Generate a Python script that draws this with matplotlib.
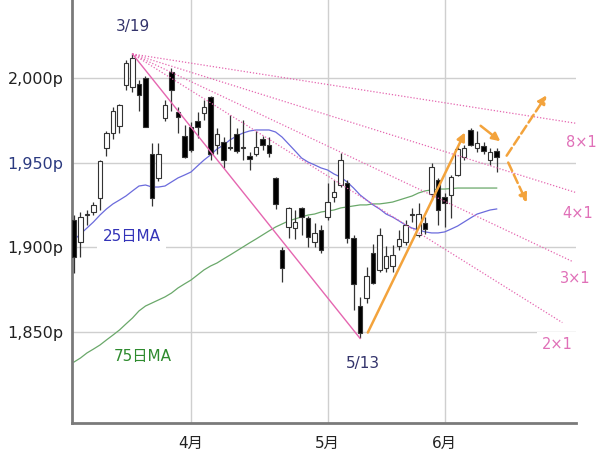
import matplotlib.pyplot as plt

plt.rcParams['font.family'] = ['DejaVu Sans', 'Noto Sans CJK JP']

# daily candles, trading-day index 0 = 3/8 ... 65 = 6/11
opens = [1916, 1903, 1919, 1921, 1929, 1959, 1968, 1972, 1996, 1995,
         1997, 2000, 1955, 1941, 1976.5, 2004, 1980, 1966, 1971, 1975,
         1979.5, 1989, 1960.5, 1962.5, 1959.5, 1967, 1959, 1954, 1955.5, 1964,
         1960.5, 1941, 1898.5, 1912, 1911.5, 1923, 1917.5, 1903, 1910, 1918,
         1930, 1937, 1938, 1905.5, 1865, 1870, 1896.5, 1886.5, 1888, 1889,
         1901, 1903, 1919, 1907, 1914.5, 1931.5, 1940, 1930, 1931, 1943,
         1953.5, 1969.5, 1959, 1960, 1952, 1957]
highs = [1919, 1921, 1922, 1927, 1952, 1969, 1983, 1985, 2011, 2014.5,
         1999, 2001.5, 1962, 1962, 1987, 2006, 1983, 1972.5, 1974, 1980,
         1987, 1989.5, 1970.5, 1965.5, 1978.5, 1970.5, 1975.5, 1956.5, 1969, 1966,
         1965.5, 1941.5, 1900, 1924, 1922, 1924, 1918.5, 1914.5, 1913, 1938,
         1940, 1956, 1940, 1907, 1870.5, 1888.5, 1902, 1911.5, 1901, 1901.5,
         1910, 1916, 1923, 1926, 1918, 1950, 1941, 1932, 1943, 1959.5,
         1960.5, 1970.5, 1969, 1962.5, 1959, 1959]
lows = [1885, 1894, 1913, 1919, 1922, 1954, 1964, 1968, 1993, 1992,
        1981, 1971, 1924.5, 1939, 1975, 1981, 1968, 1953, 1956.5, 1965,
        1975.5, 1952, 1955, 1947, 1957.5, 1956, 1952, 1946, 1954, 1957.5,
        1953.5, 1922.5, 1879.5, 1905.5, 1905, 1907.5, 1900, 1900, 1896.5, 1916,
        1927, 1936, 1902.5, 1863, 1846, 1867, 1878, 1885.5, 1885.5, 1885.5,
        1898.5, 1901.5, 1915, 1906, 1908, 1928, 1913, 1912, 1917.5, 1942,
        1952, 1960, 1956.5, 1955.5, 1949, 1944.5]
closes = [1894, 1918, 1920, 1925, 1951, 1968, 1981, 1984, 2009, 2012,
          1990, 1971.5, 1929, 1955, 1984, 1993, 1977, 1953.5, 1957.5, 1971,
          1983, 1955, 1967, 1952, 1959, 1957, 1959.5, 1952.5, 1959.5, 1960.5,
          1956, 1925.5, 1888, 1923, 1915, 1918, 1906, 1908.5, 1898.5, 1927,
          1933, 1952, 1905.5, 1878, 1849, 1883, 1879, 1907, 1895, 1895.5,
          1905, 1913, 1920, 1920, 1911, 1947.5, 1922, 1926, 1941.5, 1958,
          1959, 1960.5, 1962, 1957, 1956.5, 1953.5]

ma25 = [1904.3, 1907.9, 1911.4, 1915, 1919.1, 1922.7, 1925.7, 1928, 1930.4, 1933.4,
        1936.3, 1936.9, 1935.7, 1935.7, 1936.3, 1938.7, 1941.1, 1942.8, 1944.6, 1948.2,
        1951.7, 1954.7, 1958.2, 1960.6, 1963.6, 1965.9, 1967.7, 1968.9, 1969.5, 1969.5,
        1969.5, 1968.3, 1965.3, 1961.2, 1957.1, 1952.9, 1950.5, 1948.8, 1947, 1945.8,
        1943.4, 1941.6, 1938.7, 1935.1, 1931, 1928, 1925.1, 1922.7, 1919.7, 1917.9,
        1915.6, 1913.2, 1911.4, 1910.3, 1909.1, 1908.5, 1908.5, 1909.1, 1910.8, 1912.6,
        1915, 1917.4, 1919.7, 1920.9, 1922.1, 1922.7]
ma75 = [1832, 1834.4, 1837.4, 1839.7, 1842.1, 1845.1, 1848, 1851, 1854.6, 1858.1,
        1862.3, 1865.2, 1867, 1868.8, 1870.6, 1872.9, 1875.9, 1878.3, 1880.6, 1883.6,
        1886.6, 1888.9, 1890.7, 1893.1, 1895.4, 1897.8, 1900.2, 1902.6, 1904.9, 1907.3,
        1909.7, 1912, 1913.8, 1915.6, 1916.8, 1918, 1919.1, 1919.7, 1920.9, 1921.5,
        1922.1, 1923.3, 1923.9, 1924.5, 1925.1, 1925.1, 1925.7, 1925.7, 1926.2, 1926.8,
        1928, 1929.2, 1930.4, 1932.2, 1933.4, 1934, 1934.5, 1934.5, 1934.8, 1935.1,
        1935.1, 1935.1, 1935.1, 1935.1, 1935.1, 1935.1]

month_idx = [18, 39, 57]
month_labels = ['4月', '5月', '6月']
yticks = [1850, 1900, 1950, 2000]
ytick_labels = ['1,850p', '1,900p', '1,950p', '2,000p']

peak_idx = 9      # 3/19
bottom_idx = 44   # 5/13
fan_ratios = [2, 3, 4, 8]
# the 3x1 line in the source is drawn a bit steeper than 1/3 of the 1x1
fan_drawn = [2, 2.65, 4, 8]
fan_ends = [75.1, 76.8, 77.1, 77.3]
fan_label_pos = [(74.3, 1842.7), (77.1, 1881.8), (77.4, 1920.3), (78.0, 1961.8)]

PINK = '#e566b0'
ORANGE = '#f3a33c'
NAVY = '#33336b'

fig = plt.figure(figsize=(6, 4.59), dpi=100)
ax = fig.add_axes([72 / 600, 36 / 459, 504 / 600, 423 / 459])
ax.set_xlim(-0.3, 77.2)
ax.set_ylim(1795.9, 2046.5)

for y in yticks:
    ax.axhline(y, color='#cfcfcf', lw=1, zorder=0.5)
for m in month_idx:
    ax.axvline(m, color='#cfcfcf', lw=1, zorder=0.5)

n = len(closes)
x = list(range(n))
ax.plot(x, ma75, color='#6aa86a', lw=0.9, zorder=2)
ax.plot(x, ma25, color='#6b6bdc', lw=0.9, zorder=2)

ax.vlines(x, lows, highs, color='#333333', lw=0.9, zorder=3)
for i in range(n):
    o, c = opens[i], closes[i]
    up = c >= o
    ax.bar(i, max(abs(c - o), 0.4), bottom=min(o, c), width=0.72,
           facecolor='white' if up else 'black', edgecolor='#333333',
           lw=0.8, zorder=3.5)

# fan lines from 3/19 high
x0, y0 = peak_idx, highs[peak_idx]
slope = (lows[bottom_idx] - y0) / (bottom_idx - peak_idx)
ax.plot([x0, bottom_idx], [y0, lows[bottom_idx]], color=PINK, lw=1, zorder=4)
for r, d, xe, (lx, ly) in zip(fan_ratios, fan_drawn, fan_ends, fan_label_pos):
    ax.plot([x0, xe], [y0, y0 + slope / d * (xe - x0)], color=PINK, lw=0.9,
            ls=(0, (1, 1.5)), zorder=4, clip_on=False)
    ax.text(lx, ly, f'{r}×1', color='#e070b8', fontsize=10.5, ha='center',
            va='center', zorder=6, clip_on=False,
            bbox=dict(facecolor='white', edgecolor='none', pad=3))

# orange arrows
arr = dict(arrowstyle='-|>', color=ORANGE, lw=1.8, mutation_scale=12)
ax.annotate('', xy=(60.3, highs[61] - 1), xytext=(45, lows[bottom_idx] + 2),
            arrowprops=arr, zorder=5)
ax.annotate('', xy=(65.9, 1961.8), xytext=(62.2, 1973),
            arrowprops=arr, zorder=5)
arr_d = dict(arrowstyle='-|>', color=ORANGE, lw=1.8, ls='--', mutation_scale=12)
ax.annotate('', xy=(72.9, 1991.4), xytext=(66.3, 1952.9),
            arrowprops=arr_d, zorder=5, annotation_clip=False)
ax.annotate('', xy=(69.8, 1925.1), xytext=(66.6, 1951.7),
            arrowprops=arr_d, zorder=5, annotation_clip=False)

ax.text(9.1, 2030.8, '3/19', color=NAVY, fontsize=11, ha='center', va='center')
ax.text(44.5, 1830.9, '5/13', color=NAVY, fontsize=11, ha='center', va='center')
ax.text(8.85, 1906.4, '25日MA', color='#3434b8', fontsize=11, ha='center',
        va='center', zorder=6,
        bbox=dict(facecolor='white', edgecolor='none', pad=4))
ax.text(10.6, 1835.5, '75日MA', color='#2e8b2e', fontsize=11, ha='center',
        va='center', zorder=6)

ax.set_yticks(yticks)
ax.set_yticklabels(ytick_labels)
ax.set_xticks(month_idx)
ax.set_xticklabels(month_labels)
ax.tick_params(axis='y', length=0, pad=6, labelsize=11.5, labelcolor='#222222')
ax.tick_params(axis='x', length=0, pad=9, labelsize=11, labelcolor='#222222')
ax.get_yticklabels()[2].set_color('#2b3a80')

for s in ['top', 'right']:
    ax.spines[s].set_visible(False)
for s in ['left', 'bottom']:
    ax.spines[s].set_color('#7a7a7a')
    ax.spines[s].set_linewidth(2)

fig.savefig('out.png', dpi=100)
